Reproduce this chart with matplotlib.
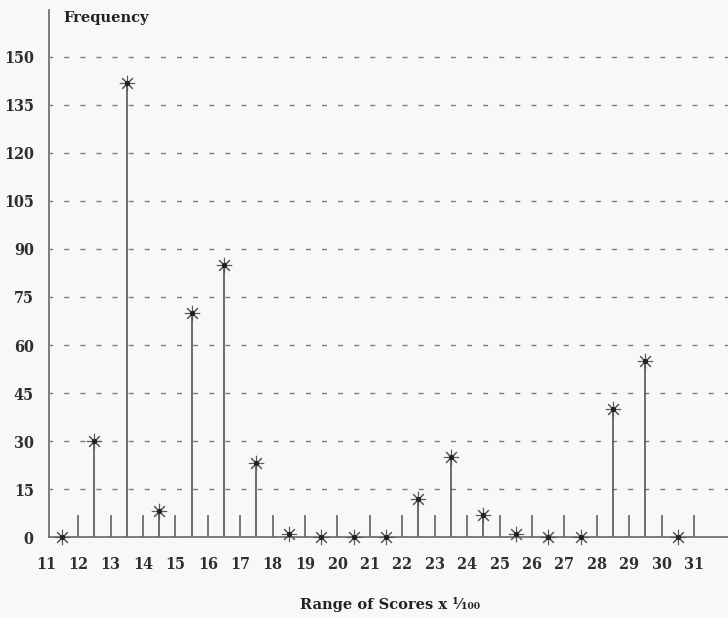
import matplotlib

matplotlib.use("Agg")
import matplotlib.pyplot as plt

# score ranges (midpoints of each 1/100 bin) and frequencies
score_mid = [11.5, 12.5, 13.5, 14.5, 15.5, 16.5, 17.5, 18.5, 19.5, 20.5,
             21.5, 22.5, 23.5, 24.5, 25.5, 26.5, 27.5, 28.5, 29.5, 30.5]
frequency = [0, 30, 142, 8, 70, 85, 23, 1, 0, 0,
             0, 12, 25, 7, 1, 0, 0, 40, 55, 0]
x_ticks = list(range(11, 32))
y_ticks = list(range(0, 151, 15))

BG = "#f8f8f6"
INK = "#2e2e2e"
plt.rcParams["font.family"] = ["DejaVu Serif", "DejaVu Sans"]
tick_font = dict(fontsize=11.5, fontweight="bold", fontstretch="condensed", color=INK)

fig = plt.figure(figsize=(7.28, 6.18), dpi=100, facecolor=BG)
ax = fig.add_axes([0.0673, 0.131, 0.9327, 0.853], facecolor=BG)

ax.set_xlim(11.1, 32.05)
ax.set_ylim(0, 164.7)

# dashed horizontal guides
for y in y_ticks[1:]:
    ax.axhline(y, color="#7a7a7a", lw=1.0, ls=(1, (3.6, 8)), zorder=1)

ax.vlines(score_mid, 0, frequency, color="#555555", lw=1.2, zorder=2)
ax.plot(score_mid, frequency, ls="none", marker=(8, 2, 0), ms=11,
        mec="#5a5a5a", mew=0.8, zorder=3, clip_on=False)
ax.plot(score_mid, frequency, ls="none", marker="o", ms=2.8,
        color="#222222", zorder=4, clip_on=False)

for side in ("top", "right"):
    ax.spines[side].set_visible(False)
for side in ("left", "bottom"):
    ax.spines[side].set_color("#666666")
    ax.spines[side].set_linewidth(1.2)

ax.set_xticks(x_ticks[1:])
ax.set_xticklabels([str(t) for t in x_ticks[1:]], **tick_font)
ax.set_yticks(y_ticks)
ax.set_yticklabels([str(t) for t in y_ticks], **tick_font)
ax.tick_params(axis="x", direction="in", length=16, width=1.1, color="#555555", pad=14)
ax.tick_params(axis="y", length=0, pad=11)

# first label sits just left of the vertical axis, outside the x range
ax.annotate(str(x_ticks[0]), xy=(x_ticks[0], 0), xycoords=("data", "axes fraction"),
            xytext=(0, -14), textcoords="offset points", ha="center", va="top",
            annotation_clip=False, **tick_font)

fig.text(63 / 728, 1 - 18 / 618, "Frequency", fontsize=10.5, fontweight="bold",
         color="#222222", ha="left", va="center")
fig.text(390 / 728, 1 - 605 / 618, "Range of Scores x \u00b9\u2044\u2081\u2080\u2080",
         fontsize=10.5, fontweight="bold", color="#222222", ha="center", va="center")

fig.savefig("out.png", dpi=100, facecolor=BG)
